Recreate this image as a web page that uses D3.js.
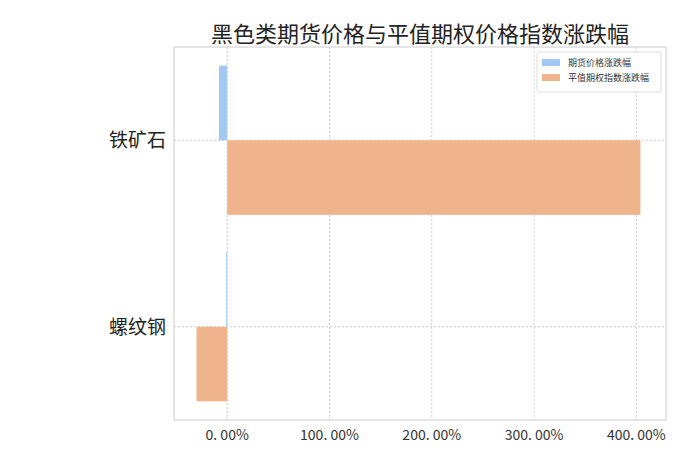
<!DOCTYPE html><html><head><meta charset="utf-8"><script src="https://cdn.jsdelivr.net/npm/d3@7"></script>
<style>body{margin:0;background:#fff}text{font-family:"Noto Sans CJK SC","DejaVu Sans",sans-serif}</style></head><body><svg id="c" width="700" height="467"></svg>
<script>
const categories=["铁矿石","螺纹钢"];
const seriesNames=["期货价格涨跌幅","平值期权指数涨跌幅"];
const futures=[-0.08,-0.01];
const options=[4.04,-0.30];
const ticks=[0,1,2,3,4];
const colors=["#a1c9f4","#f0b48c"];
const svg=d3.select("#c");
const L=174,R=666,T=47,B=420;
const x=d3.scaleLinear().domain([-0.52,4.29]).range([L,R]);
const y=d3.scaleBand().domain(categories).range([T,B]).paddingInner(0.2).paddingOuter(0.1);
const yc=c=>y(c)+y.bandwidth()/2;
svg.append("rect").attr("x",L).attr("y",T).attr("width",R-L).attr("height",B-T).attr("fill","none").attr("stroke","#ccc");
ticks.forEach(t=>svg.append("line").attr("x1",x(t)).attr("x2",x(t)).attr("y1",T).attr("y2",B).attr("stroke","#ccc").attr("stroke-dasharray","2,2"));
categories.forEach(c=>svg.append("line").attr("x1",L).attr("x2",R).attr("y1",yc(c)).attr("y2",yc(c)).attr("stroke","#ccc").attr("stroke-dasharray","2,2"));
const h=y.bandwidth()/2;
[futures,options].forEach((s,si)=>s.forEach((v,i)=>{
 svg.append("rect").attr("x",x(Math.min(0,v))).attr("width",Math.abs(x(v)-x(0))).attr("y",y(categories[i])+si*h).attr("height",h).attr("fill",colors[si]);
}));
ticks.forEach(t=>svg.append("text").attr("x",x(t)).attr("y",B+20).attr("text-anchor","middle").attr("font-size",14).attr("fill","#333").text((t*100).toFixed(2).replace(".",". ")+"%"));
categories.forEach(c=>svg.append("text").attr("x",L-8).attr("y",yc(c)+7).attr("text-anchor","end").attr("font-size",19).attr("fill","#222").text(c));
svg.append("text").attr("x",420).attr("y",42).attr("text-anchor","middle").attr("font-size",22).attr("fill","#222").text("黑色类期货价格与平值期权价格指数涨跌幅");
const lg=svg.append("g").attr("transform","translate(537,52)");
lg.append("rect").attr("width",124).attr("height",40).attr("fill","#fff").attr("stroke","#ddd").attr("rx",2);
seriesNames.forEach((n,i)=>{lg.append("rect").attr("x",5).attr("y",7+i*15).attr("width",18).attr("height",7).attr("fill",colors[i]);
lg.append("text").attr("x",31).attr("y",14+i*15).attr("font-size",9).attr("fill","#333").text(n);});
</script></body></html>
